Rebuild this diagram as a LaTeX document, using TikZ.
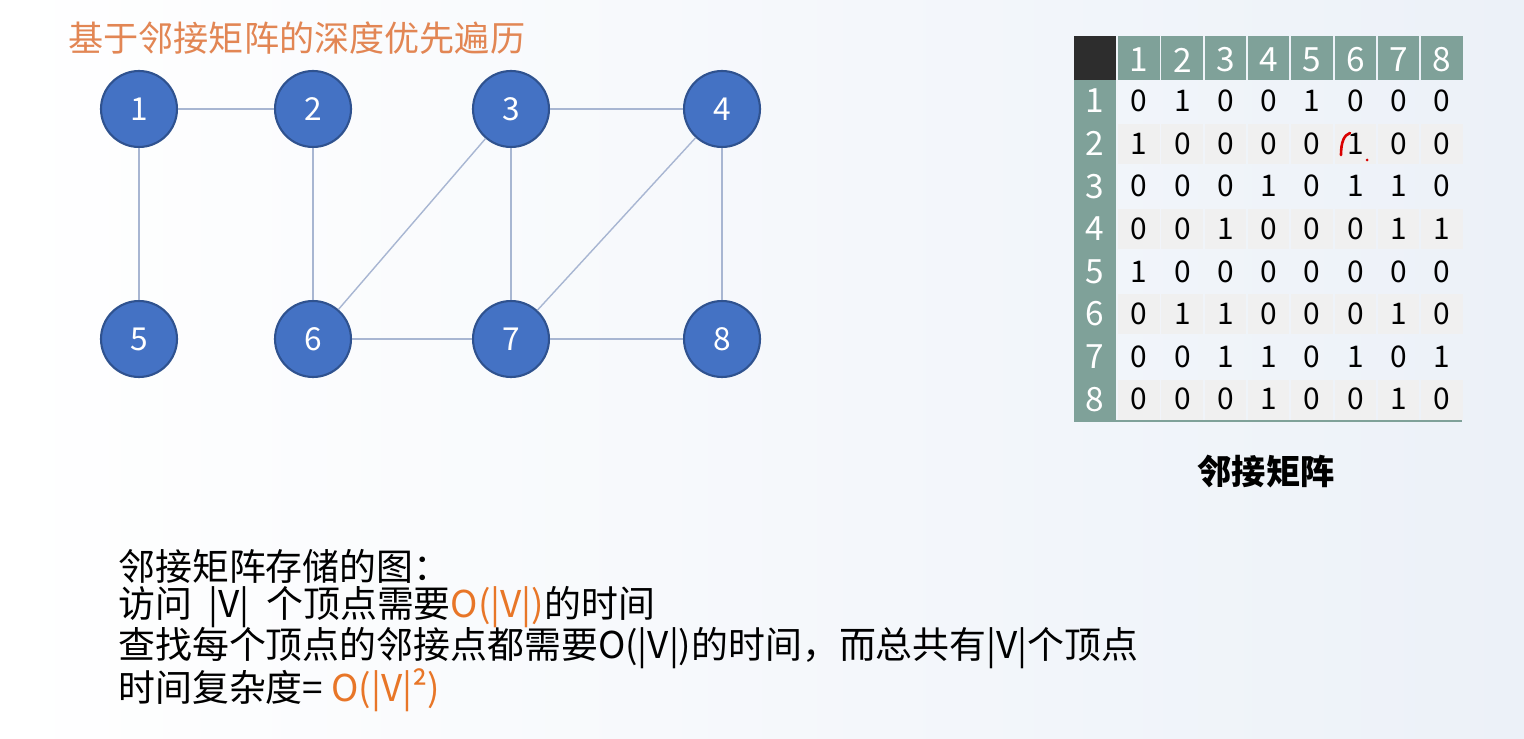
\documentclass[tikz,border=0pt]{standalone}
\usepackage{fontspec}
\setmainfont{Noto Sans CJK SC}
\usepackage{tikz}
\usetikzlibrary{
    arrows.meta,
    positioning,
    calc
}
\usepackage{xcolor}
\definecolor{vblue}{RGB}{68,114,196}
\definecolor{vborder}{RGB}{47,82,143}
\definecolor{edgegray}{RGB}{168,182,210}
\definecolor{hdrteal}{RGB}{127,161,153}
\definecolor{hdrdark}{RGB}{45,45,45}
\definecolor{cellgray}{RGB}{240,240,240}
\definecolor{titleorange}{RGB}{226,134,84}
\definecolor{textorange}{RGB}{232,118,40}
\definecolor{bgblue}{RGB}{236,241,248}
\tikzstyle{vertex} = [
    circle,
    draw=vborder,
    line width=1.2pt,
    fill=vblue,
    minimum size=1.52cm,
    inner sep=0pt,
    text=white,
    font=\fontsize{18}{18}\selectfont
]
\tikzstyle{edge} = [
    draw=edgegray,
    line width=0.8pt
]
\tikzstyle{cellnum} = [
    inner sep=0pt,
    font=\fontsize{17}{17}\selectfont
]
\tikzstyle{headnum} = [
    inner sep=0pt,
    text=white,
    font=\fontsize{19}{19}\selectfont
]
\tikzstyle{textline} = [
    anchor=west,
    inner sep=0pt,
    font=\fontsize{21}{21}\selectfont
]

\begin{document}
\begin{tikzpicture}[x=0.02cm, y=-0.02cm]
        % background
        \shade[left color=white, right color=bgblue] (0,0) rectangle (1524,739);
        \useasboundingbox (0,0) rectangle (1524,739);

        % title
        \node[textline, text=titleorange, font=\fontsize{20}{20}\selectfont] (title) at (68,38) {基于邻接矩阵的深度优先遍历};

        % vertices
        \node[vertex] (v1) at (139,109) {1};
        \node[vertex] (v2) at (313,109) {2};
        \node[vertex] (v3) at (511,109) {3};
        \node[vertex] (v4) at (722,109) {4};
        \node[vertex] (v5) at (139,339) {5};
        \node[vertex] (v6) at (313,339) {6};
        \node[vertex] (v7) at (511,339) {7};
        \node[vertex] (v8) at (722,339) {8};

        % edges
        \draw[edge] (v1) -- (v2);
        \draw[edge] (v1) -- (v5);
        \draw[edge] (v2) -- (v6);
        \draw[edge] (v3) -- (v4);
        \draw[edge] (v3) -- (v6);
        \draw[edge] (v3) -- (v7);
        \draw[edge] (v4) -- (v7);
        \draw[edge] (v4) -- (v8);
        \draw[edge] (v6) -- (v7);
        \draw[edge] (v7) -- (v8);

        % adjacency matrix: header row and label column
        \fill[hdrdark] (1074,36) rectangle (1116,80);
        \fill[hdrteal] (1074,80) rectangle (1116,421);
        \foreach \c in {1,...,8} {
            \fill[hdrteal] ({1118+(\c-1)*43.3},36) rectangle ({1159.5+(\c-1)*43.3},80);
            \node[headnum] (col\c) at ({1139+(\c-1)*43.3},60) {\c};
            \node[headnum] (row\c) at (1095,{101+(\c-1)*42.6}) {\c};
        }
        % adjacency matrix: shaded rows
        \foreach \r in {2,4,6,8} {
            \foreach \c in {1,...,8} {
                \fill[cellgray] ({1118+(\c-1)*43.3},{81.5+(\r-1)*42.6}) rectangle ({1159.5+(\c-1)*43.3},{121.5+(\r-1)*42.6});
            }
        }
        % adjacency matrix: values
        \foreach \rowvals [count=\r] in {{0,1,0,0,1,0,0,0},{1,0,0,0,0,1,0,0},{0,0,0,1,0,1,1,0},{0,0,1,0,0,0,1,1},{1,0,0,0,0,0,0,0},{0,1,1,0,0,0,1,0},{0,0,1,1,0,1,0,1},{0,0,0,1,0,0,1,0}} {
            \foreach \v [count=\c] in \rowvals {
                \node[cellnum] (m\r\c) at ({1139+(\c-1)*43.3},{101+(\r-1)*42.6}) {\v};
            }
        }
        \draw[hdrteal, line width=1.5pt] (1074,421) -- (1462,421);

        % hand-drawn mark
        \draw[red!85!black, line width=1.5pt, line cap=round] (1341,155) .. controls (1341,142) and (1344,135) .. (1350,133);
        \fill[red!85!black] (1367,160) circle (1.5);

        % caption
        \node[inner sep=0pt, font=\fontsize{19.5}{19.5}\selectfont\bfseries] (caption) at (1266,472) {邻接矩阵};

        % notes
        \node[textline] (line1) at (118,566) {邻接矩阵存储的图：};
        \node[textline] (line2) at (118,607) {访问~ |V|~ 个顶点需要\textcolor{textorange}{O(|V|)}的时间};
        \node[textline] (line3) at (118,648) {查找每个顶点的邻接点都需要O(|V|)的时间，而总共有|V|个顶点};
        \node[textline] (line4) at (118,690) {时间复杂度= \textcolor{textorange}{O(|V|²)}};
    \end{tikzpicture}
\end{document}
